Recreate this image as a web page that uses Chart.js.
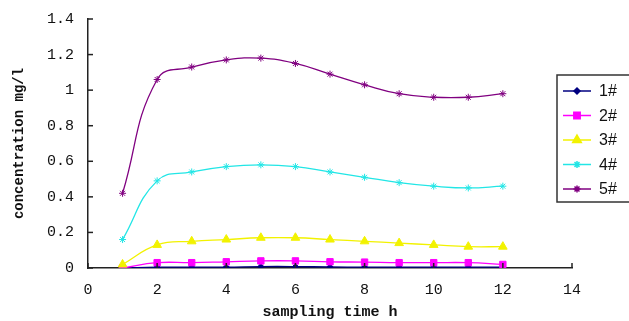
<!DOCTYPE html>
<html><head><meta charset="utf-8">
<script src="https://cdn.jsdelivr.net/npm/chart.js@4.4.1/dist/chart.umd.min.js"></script>
<style>html,body{margin:0;padding:0;background:#fff}#wrap{width:629px;height:321px}</style>
</head><body><div id="wrap"><canvas id="c" width="629" height="321"></canvas></div>
<script>
const times = [1,2,3,4,5,6,7,8,9,10,11,12];
const seriesNames = ['1#','2#','3#','4#','5#'];
const s1 = [0.0,0.005,0.005,0.005,0.008,0.008,0.006,0.005,0.005,0.005,0.005,0.005];
const s2 = [0.0,0.03,0.03,0.035,0.04,0.04,0.035,0.033,0.03,0.03,0.03,0.02];
const s3 = [0.02,0.13,0.15,0.16,0.17,0.17,0.16,0.15,0.14,0.13,0.12,0.12];
const s4 = [0.16,0.49,0.54,0.57,0.58,0.57,0.54,0.51,0.48,0.46,0.45,0.46];
const s5 = [0.42,1.06,1.13,1.17,1.18,1.15,1.09,1.03,0.98,0.96,0.96,0.98];
const xTicks = [0,2,4,6,8,10,12,14];
const yTicks = [0,0.2,0.4,0.6,0.8,1,1.2,1.4];

const colors = ['#000080','#ff00ff','#f2f200','#22e6e6','#800080'];
const styles = ['rectRot','rect','triangle','star','star'];
const radii = [3,4.5,5,3.5,3.5];
const values = [s1,s2,s3,s4,s5];

const datasets = values.map((v,i)=>({
  label: seriesNames[i],
  data: times.map((t,j)=>({x:t,y:v[j]})),
  borderColor: colors[i], backgroundColor: colors[i],
  pointStyle: styles[i], pointRadius: radii[i], pointBorderWidth:1,
  borderWidth: 1.3, tension: 0.45, fill:false
})).reverse();

const tickPlugin = {
  id:'ticks',
  afterDraw(chart){
    const ctx = chart.ctx, xs = chart.scales.x, ys = chart.scales.y;
    ctx.save();
    ctx.strokeStyle = '#222'; ctx.lineWidth = 1.5;
    yTicks.forEach(v=>{const p=ys.getPixelForValue(v);ctx.beginPath();ctx.moveTo(xs.left,p);ctx.lineTo(xs.left+5,p);ctx.stroke();});
    xTicks.forEach(v=>{const p=xs.getPixelForValue(v);ctx.beginPath();ctx.moveTo(p,ys.bottom);ctx.lineTo(p,ys.bottom-5);ctx.stroke();});
    // legend
    const bx=557, by=75, bw=80, bh=127;
    ctx.fillStyle='#fff'; ctx.fillRect(bx,by,bw,bh);
    ctx.strokeStyle='#333'; ctx.lineWidth=1.5; ctx.strokeRect(bx,by,bw,bh);
    ctx.font = '16px "Liberation Sans", Arial, sans-serif';
    ctx.textBaseline='middle'; ctx.textAlign='left';
    for(let i=0;i<seriesNames.length;i++){
      const y = by+16+i*24.5;
      ctx.strokeStyle=colors[i]; ctx.lineWidth=1.5;
      ctx.beginPath(); ctx.moveTo(bx+6,y); ctx.lineTo(bx+34,y); ctx.stroke();
      ctx.fillStyle=colors[i];
      Chart.helpers.drawPoint(ctx,{pointStyle:styles[i],radius:radii[i],rotation:0,borderWidth:1},bx+20,y);
      ctx.fillStyle='#111';
      ctx.fillText(seriesNames[i],bx+42,y+1);
    }
    ctx.restore();
  }
};

new Chart(document.getElementById('c'),{
  type:'line',
  data:{datasets},
  options:{
    responsive:false, animation:false,
    layout:{padding:{left:0,top:19,right:57,bottom:0}},
    plugins:{legend:{display:false},tooltip:{enabled:false}},
    scales:{
      x:{type:'linear',min:0,max:14,
        afterBuildTicks(s){s.ticks=xTicks.map(v=>({value:v}));},
        afterFit(s){s.height=53;},
        grid:{display:false},
        border:{display:true,color:'#222',width:1.5},
        ticks:{padding:5,color:'#111',font:{family:'"Liberation Mono", monospace',size:15},callback:v=>String(v)},
        title:{display:true,text:'sampling time h',color:'#111',padding:{top:0,bottom:0},font:{family:'"Liberation Mono", monospace',size:15,weight:'bold'}}
      },
      y:{type:'linear',min:0,max:1.4,
        afterBuildTicks(s){s.ticks=yTicks.map(v=>({value:v}));},
        afterFit(s){s.width=88;},
        grid:{display:false},
        border:{display:true,color:'#222',width:1.5},
        ticks:{padding:6,color:'#111',font:{family:'"Liberation Mono", monospace',size:15},callback:v=>String(Math.round(v*10)/10)},
        title:{display:true,text:'concentration mg/l',color:'#111',padding:{top:11,bottom:0},font:{family:'"Liberation Mono", monospace',size:14,weight:'bold'}}
      }
    }
  },
  plugins:[tickPlugin]
});
</script></body></html>
